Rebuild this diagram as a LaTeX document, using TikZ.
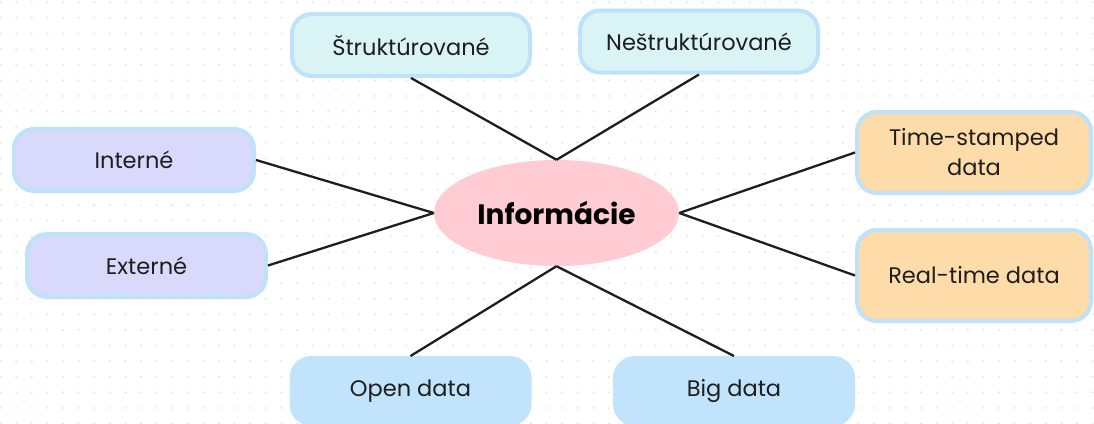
\documentclass[tikz,border=0pt]{standalone}
\usepackage{fontspec}
\setmainfont{Poppins}
\usetikzlibrary{shapes.geometric}
\usetikzlibrary{positioning}
\definecolor{BoxEdge}{HTML}{BEE2FA}
\definecolor{LightTeal}{HTML}{DAF4F5}
\definecolor{LightLavender}{HTML}{D9D9FB}
\definecolor{LightPeach}{HTML}{FDDCA9}
\definecolor{LightSky}{HTML}{C1E3FB}
\definecolor{LightPink}{HTML}{FECCD2}
\definecolor{DotGray}{HTML}{E4E4E4}
\definecolor{InkDark}{HTML}{1E1E1E}

\begin{document}
\begin{tikzpicture}[x=1pt, y=-1pt,
  topic/.style={draw=BoxEdge, line width=4pt, rounded corners=20pt,
    minimum width=238pt, minimum height=62pt, inner sep=0pt,
    align=center, text=InkDark, font=\fontsize{22.5}{30}\selectfont},
  link/.style={draw=InkDark, line width=2.3pt}]

% canvas
\useasboundingbox (0,0) rectangle (1094,423);
\clip (0,0) rectangle (1094,423);
\fill[white] (0,0) rectangle (1094,423);

% The dot grid
\foreach \i in {0,...,70}
  \foreach \j in {0,...,27}
    \fill[DotGray] (0.6+15.6*\i, 2.3+15.6*\j) circle (1.1);

% centre
\node[ellipse, fill=LightPink, minimum width=245pt, minimum height=106pt,
  inner sep=0pt, text=black, font=\fontsize{28}{34}\selectfont\bfseries]
  (info) at (556.5,213) {Informácie};

% top
\node[topic, fill=LightTeal] (struk) at (411,45) {Štruktúrované};
\node[topic, fill=LightTeal] (nestruk) at (699,41.5) {Neštruktúrované};

% left
\node[topic, fill=LightLavender, minimum width=240pt] (intern) at (134,160) {Interné};
\node[topic, fill=LightLavender, minimum width=239pt, minimum height=63pt] (extern) at (146.5,265.5) {Externé};

% right
\node[topic, fill=LightPeach, minimum width=234pt, minimum height=81pt] (stamp) at (974,152.5) {Time-stamped\\data};
\node[topic, fill=LightPeach, minimum width=234pt, minimum height=91pt] (realt) at (974,275.5) {Real-time data};

% bottom
\node[topic, fill=LightSky, draw=LightSky, minimum height=66pt] (opend) at (410.5,391) {Open data};
\node[topic, fill=LightSky, draw=LightSky, minimum height=66pt] (bigd) at (734,391) {Big data};

% links
\draw[link] (info.north) -- (struk.south);
\draw[link] (info.north) -- (nestruk.south);
\draw[link] (info.west) -- (intern.east);
\draw[link] (info.west) -- (extern.east);
\draw[link] (info.east) -- (stamp.west);
\draw[link] (info.east) -- (realt.west);
\draw[link] (info.south) -- (opend.north);
\draw[link] (info.south) -- (bigd.north);

\end{tikzpicture}
\end{document}
